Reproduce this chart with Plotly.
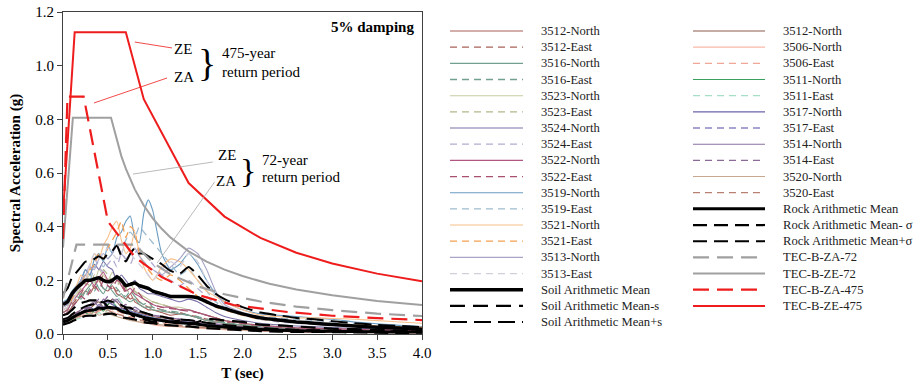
import plotly.graph_objects as go

# ---------------- data ----------------
T = [0.0, 0.05, 0.1, 0.15, 0.2, 0.25, 0.3, 0.35, 0.4, 0.45, 0.5, 0.55, 0.6, 0.65, 0.7, 0.75,
     0.8, 0.85, 0.9, 0.95, 1.0, 1.1, 1.2, 1.3, 1.4, 1.5, 1.6, 1.7, 1.8, 2.0, 2.2, 2.4, 2.6,
     2.8, 3.0, 3.25, 3.5, 3.75, 4.0]

soil_names = ["3512-North", "3512-East", "3516-North", "3516-East", "3523-North", "3523-East",
              "3524-North", "3524-East", "3522-North", "3522-East", "3519-North", "3519-East",
              "3521-North", "3521-East", "3513-North", "3513-East"]
soil_colors = ["#a8605a", "#a8605a", "#74a090", "#74a090", "#c8cca2", "#b4b68a",
               "#7a70a8", "#b3acd0", "#b05680", "#a8506e", "#6a9cc2", "#a0bcd0",
               "#f8c08c", "#f4a050", "#a8a4c8", "#d2cedc"]
soil_vals = [
    [0.07,0.08,0.1,0.12,0.14,0.16,0.15,0.18,0.2,0.17,0.16,0.18,0.15,0.14,0.13,0.15,0.12,0.11,0.1,0.09,0.09,0.08,0.07,0.075,0.07,0.06,0.05,0.045,0.04,0.032,0.026,0.022,0.019,0.017,0.015,0.013,0.012,0.011,0.01],
    [0.08,0.09,0.11,0.13,0.15,0.18,0.2,0.17,0.19,0.22,0.2,0.18,0.16,0.18,0.15,0.13,0.14,0.12,0.11,0.1,0.1,0.09,0.08,0.08,0.07,0.065,0.055,0.05,0.045,0.035,0.028,0.024,0.02,0.018,0.016,0.014,0.013,0.012,0.011],
    [0.08,0.09,0.12,0.14,0.13,0.16,0.18,0.2,0.17,0.15,0.18,0.16,0.14,0.15,0.13,0.12,0.13,0.11,0.1,0.1,0.09,0.085,0.08,0.075,0.07,0.06,0.05,0.045,0.04,0.033,0.027,0.023,0.02,0.018,0.016,0.014,0.013,0.012,0.011],
    [0.07,0.08,0.1,0.12,0.15,0.14,0.17,0.16,0.19,0.17,0.16,0.19,0.17,0.15,0.14,0.16,0.14,0.12,0.11,0.12,0.1,0.09,0.085,0.08,0.07,0.065,0.055,0.048,0.042,0.034,0.028,0.024,0.021,0.019,0.017,0.015,0.013,0.012,0.011],
    [0.09,0.1,0.13,0.15,0.18,0.2,0.22,0.19,0.24,0.22,0.2,0.23,0.2,0.18,0.17,0.19,0.16,0.15,0.14,0.13,0.12,0.11,0.1,0.1,0.09,0.08,0.07,0.06,0.05,0.04,0.032,0.027,0.023,0.021,0.019,0.017,0.015,0.014,0.013],
    [0.08,0.09,0.12,0.14,0.17,0.19,0.18,0.22,0.2,0.24,0.22,0.2,0.18,0.2,0.17,0.15,0.16,0.14,0.13,0.12,0.12,0.11,0.1,0.09,0.09,0.08,0.07,0.06,0.05,0.04,0.032,0.027,0.023,0.021,0.019,0.017,0.015,0.014,0.013],
    [0.1,0.11,0.14,0.17,0.2,0.24,0.22,0.26,0.24,0.27,0.25,0.24,0.2,0.22,0.2,0.18,0.2,0.17,0.16,0.15,0.15,0.14,0.13,0.12,0.13,0.12,0.1,0.08,0.065,0.05,0.04,0.034,0.03,0.027,0.024,0.021,0.019,0.017,0.015],
    [0.09,0.1,0.13,0.16,0.2,0.22,0.26,0.28,0.25,0.23,0.26,0.28,0.25,0.3,0.28,0.26,0.3,0.32,0.3,0.28,0.26,0.22,0.2,0.18,0.2,0.17,0.14,0.11,0.09,0.07,0.055,0.045,0.04,0.036,0.032,0.028,0.025,0.022,0.02],
    [0.08,0.09,0.12,0.14,0.16,0.18,0.2,0.18,0.21,0.23,0.2,0.19,0.22,0.18,0.16,0.17,0.15,0.14,0.13,0.12,0.11,0.1,0.1,0.09,0.09,0.08,0.07,0.06,0.05,0.04,0.032,0.027,0.023,0.021,0.019,0.017,0.015,0.014,0.013],
    [0.07,0.08,0.1,0.12,0.14,0.13,0.16,0.18,0.16,0.2,0.18,0.17,0.2,0.19,0.16,0.15,0.17,0.15,0.13,0.12,0.11,0.1,0.095,0.09,0.085,0.08,0.07,0.06,0.05,0.04,0.032,0.027,0.023,0.021,0.019,0.017,0.015,0.014,0.013],
    [0.12,0.13,0.16,0.18,0.2,0.24,0.22,0.28,0.3,0.27,0.33,0.3,0.36,0.38,0.42,0.44,0.36,0.34,0.45,0.5,0.46,0.3,0.24,0.26,0.3,0.26,0.2,0.15,0.12,0.09,0.075,0.07,0.065,0.06,0.055,0.045,0.038,0.032,0.028],
    [0.1,0.11,0.14,0.17,0.2,0.22,0.2,0.25,0.27,0.25,0.28,0.3,0.33,0.3,0.35,0.38,0.36,0.4,0.38,0.36,0.34,0.3,0.26,0.22,0.24,0.2,0.16,0.12,0.1,0.08,0.065,0.06,0.055,0.05,0.045,0.04,0.035,0.03,0.025],
    [0.1,0.12,0.15,0.18,0.22,0.2,0.25,0.3,0.28,0.33,0.36,0.4,0.42,0.35,0.3,0.32,0.38,0.3,0.25,0.22,0.2,0.25,0.28,0.27,0.24,0.2,0.16,0.14,0.12,0.09,0.07,0.065,0.06,0.06,0.058,0.055,0.05,0.045,0.04],
    [0.09,0.1,0.13,0.16,0.19,0.22,0.24,0.26,0.3,0.28,0.32,0.35,0.38,0.42,0.36,0.4,0.38,0.3,0.26,0.24,0.22,0.2,0.22,0.2,0.17,0.14,0.12,0.1,0.09,0.07,0.055,0.05,0.045,0.04,0.038,0.034,0.03,0.027,0.025],
    [0.1,0.11,0.14,0.16,0.2,0.22,0.25,0.24,0.28,0.3,0.28,0.3,0.33,0.3,0.28,0.3,0.32,0.29,0.27,0.25,0.24,0.22,0.25,0.28,0.32,0.3,0.24,0.16,0.11,0.08,0.06,0.05,0.045,0.04,0.035,0.03,0.027,0.024,0.02],
    [0.09,0.1,0.12,0.15,0.18,0.2,0.26,0.3,0.28,0.3,0.32,0.3,0.28,0.3,0.34,0.3,0.28,0.26,0.24,0.22,0.2,0.24,0.27,0.25,0.3,0.27,0.2,0.14,0.1,0.075,0.06,0.05,0.045,0.04,0.035,0.03,0.027,0.024,0.02],
]

soil_mean = [0.11,0.12,0.15,0.17,0.185,0.2,0.2,0.205,0.21,0.2,0.195,0.2,0.213,0.2,0.18,0.185,0.19,0.18,0.175,0.17,0.16,0.15,0.14,0.14,0.14,0.135,0.12,0.105,0.095,0.075,0.06,0.052,0.045,0.04,0.035,0.03,0.025,0.022,0.018]
soil_mean_minus = [0.07,0.075,0.09,0.105,0.115,0.12,0.125,0.125,0.125,0.12,0.1,0.095,0.1,0.105,0.095,0.075,0.065,0.065,0.055,0.05,0.045,0.045,0.045,0.05,0.035,0.045,0.055,0.055,0.05,0.045,0.035,0.032,0.028,0.024,0.02,0.018,0.015,0.013,0.01]
soil_mean_plus = [0.15,0.17,0.21,0.23,0.25,0.27,0.27,0.28,0.29,0.28,0.3,0.31,0.33,0.29,0.27,0.3,0.32,0.3,0.3,0.29,0.28,0.26,0.235,0.225,0.25,0.22,0.18,0.15,0.13,0.1,0.08,0.07,0.06,0.055,0.048,0.04,0.034,0.03,0.025]

rock_names = ["3512-North", "3506-North", "3506-East", "3511-North", "3511-East", "3517-North",
              "3517-East", "3514-North", "3514-East", "3520-North", "3520-East"]
rock_colors = ["#8c5a50", "#f8b8a8", "#f2a696", "#3aa060", "#a6dec6", "#6a64a8",
               "#8a86c6", "#8a72a0", "#8a6a98", "#c8a890", "#b88070"]
rock_vals = [
    [0.05,0.055,0.07,0.08,0.09,0.1,0.095,0.11,0.12,0.1,0.11,0.13,0.12,0.1,0.09,0.1,0.085,0.08,0.075,0.07,0.065,0.06,0.055,0.05,0.05,0.045,0.04,0.035,0.03,0.025,0.02,0.017,0.015,0.013,0.012,0.011,0.01,0.009,0.008],
    [0.04,0.045,0.055,0.06,0.07,0.075,0.08,0.07,0.085,0.09,0.08,0.085,0.075,0.07,0.06,0.055,0.05,0.045,0.04,0.04,0.035,0.03,0.028,0.026,0.025,0.022,0.02,0.018,0.016,0.013,0.011,0.009,0.008,0.007,0.006,0.006,0.005,0.005,0.004],
    [0.045,0.05,0.06,0.07,0.075,0.085,0.08,0.09,0.1,0.095,0.1,0.09,0.085,0.08,0.07,0.065,0.06,0.055,0.05,0.047,0.045,0.04,0.036,0.033,0.03,0.027,0.024,0.021,0.019,0.015,0.012,0.01,0.009,0.008,0.007,0.006,0.006,0.005,0.005],
    [0.04,0.045,0.055,0.065,0.075,0.08,0.07,0.09,0.1,0.085,0.11,0.12,0.1,0.09,0.085,0.08,0.075,0.07,0.065,0.06,0.055,0.05,0.045,0.04,0.04,0.035,0.032,0.028,0.025,0.02,0.016,0.013,0.011,0.01,0.009,0.008,0.007,0.006,0.006],
    [0.035,0.04,0.05,0.055,0.06,0.07,0.075,0.065,0.08,0.07,0.09,0.1,0.14,0.12,0.1,0.09,0.08,0.075,0.07,0.065,0.06,0.055,0.05,0.045,0.042,0.04,0.036,0.032,0.028,0.022,0.018,0.015,0.013,0.011,0.01,0.009,0.008,0.007,0.006],
    [0.045,0.05,0.06,0.07,0.08,0.09,0.1,0.09,0.11,0.1,0.12,0.11,0.1,0.095,0.09,0.085,0.08,0.075,0.07,0.065,0.06,0.055,0.05,0.047,0.045,0.04,0.036,0.032,0.028,0.022,0.018,0.015,0.013,0.011,0.01,0.009,0.008,0.007,0.006],
    [0.04,0.045,0.055,0.065,0.07,0.08,0.09,0.085,0.095,0.11,0.1,0.09,0.1,0.085,0.08,0.075,0.07,0.065,0.06,0.058,0.055,0.05,0.045,0.042,0.04,0.036,0.032,0.028,0.025,0.02,0.016,0.013,0.011,0.01,0.009,0.008,0.007,0.006,0.006],
    [0.05,0.055,0.065,0.075,0.09,0.1,0.11,0.12,0.1,0.13,0.12,0.11,0.13,0.11,0.1,0.09,0.1,0.09,0.08,0.075,0.07,0.065,0.06,0.055,0.05,0.046,0.042,0.038,0.034,0.027,0.022,0.018,0.015,0.013,0.012,0.011,0.01,0.009,0.008],
    [0.05,0.055,0.07,0.08,0.085,0.095,0.1,0.11,0.13,0.12,0.14,0.13,0.12,0.1,0.11,0.1,0.09,0.085,0.08,0.075,0.07,0.065,0.06,0.055,0.05,0.045,0.04,0.036,0.032,0.026,0.021,0.017,0.015,0.013,0.012,0.011,0.01,0.009,0.008],
    [0.04,0.045,0.05,0.06,0.065,0.07,0.075,0.08,0.07,0.075,0.08,0.07,0.065,0.06,0.055,0.05,0.048,0.045,0.042,0.04,0.038,0.034,0.03,0.028,0.026,0.024,0.022,0.02,0.018,0.015,0.012,0.01,0.009,0.008,0.007,0.006,0.006,0.005,0.005],
    [0.045,0.05,0.06,0.065,0.07,0.08,0.085,0.075,0.09,0.085,0.09,0.08,0.075,0.07,0.065,0.06,0.055,0.05,0.048,0.045,0.042,0.038,0.034,0.031,0.028,0.026,0.024,0.022,0.02,0.016,0.013,0.011,0.01,0.009,0.008,0.007,0.006,0.006,0.005],
]

rock_mean = [0.045,0.05,0.06,0.07,0.078,0.085,0.088,0.09,0.097,0.095,0.1,0.098,0.095,0.085,0.08,0.077,0.072,0.067,0.062,0.058,0.055,0.05,0.045,0.042,0.04,0.036,0.032,0.029,0.026,0.021,0.017,0.014,0.012,0.011,0.01,0.009,0.008,0.007,0.007]
rock_mean_minus = [0.035,0.04,0.047,0.055,0.061,0.067,0.068,0.068,0.074,0.072,0.075,0.076,0.07,0.062,0.06,0.057,0.054,0.049,0.044,0.041,0.04,0.035,0.032,0.03,0.028,0.025,0.022,0.02,0.018,0.014,0.011,0.009,0.008,0.008,0.007,0.006,0.005,0.004,0.005]
rock_mean_plus = [0.055,0.06,0.073,0.085,0.095,0.103,0.108,0.112,0.12,0.118,0.125,0.12,0.12,0.108,0.1,0.097,0.09,0.085,0.08,0.075,0.07,0.065,0.058,0.054,0.052,0.047,0.042,0.038,0.034,0.028,0.023,0.019,0.016,0.014,0.013,0.012,0.011,0.01,0.009]

# design spectra (TEC-2007, local site class B)
za72_T = [0.0, 0.15, 0.8, 1.0, 1.2, 1.5, 1.8, 2.2, 2.6, 3.0, 3.5, 4.0]
za72_S = [0.133, 0.333, 0.333, 0.266, 0.222, 0.178, 0.148, 0.121, 0.102, 0.089, 0.076, 0.067]
ze72_T = [0.0, 0.11, 0.535, 0.6, 0.65, 0.7, 0.8, 0.9, 1.0, 1.1, 1.2, 1.4, 1.6, 1.8, 2.0, 2.3, 2.6, 3.0, 3.5, 4.0]
ze72_S = [0.322, 0.806, 0.806, 0.719, 0.663, 0.616, 0.539, 0.479, 0.431, 0.392, 0.359, 0.308, 0.270, 0.240, 0.216, 0.187, 0.166, 0.144, 0.123, 0.108]
za475_T = [0.0, 0.05, 0.23, 0.5, 0.8, 1.1, 1.5, 1.9, 2.5, 3.0, 3.5, 4.0]
za475_S = [0.354, 0.885, 0.885, 0.42, 0.287, 0.212, 0.146, 0.108, 0.082, 0.068, 0.059, 0.052]
ze475_T = [0.0, 0.13, 0.7, 0.9, 1.4, 1.8, 2.2, 2.6, 3.0, 3.5, 4.0]
ze475_S = [0.45, 1.125, 1.125, 0.875, 0.5625, 0.4375, 0.358, 0.303, 0.2625, 0.225, 0.197]

# ---------------- figure ----------------
FONT = "Liberation Serif"
RED = "#ee1c1c"
GREY = "#a0a0a0"
fig = go.Figure()
legend_items = {1: [], 2: []}

def add(x, y, name, color, width, dash="solid", col=1, shape="spline"):
    fig.add_trace(go.Scatter(x=x, y=y, name=name, mode="lines", showlegend=False,
                             line=dict(color=color, width=width, dash=dash, shape=shape,
                                       smoothing=0.5 if shape == "spline" else None)))
    legend_items[col].append((name, color, width, dash))

for i, (n, c, v) in enumerate(zip(soil_names, soil_colors, soil_vals)):
    add(T, v, n, c, 1.1 if i % 2 == 0 else 1.3, "solid" if i % 2 == 0 else "7px,5px")
for i, (n, c, v) in enumerate(zip(rock_names, rock_colors, rock_vals)):
    dash = "solid" if (i == 0 or i % 2 == 1) else "7px,5px"
    add(T, v, n, c, 1.1 if dash == "solid" else 1.3, dash, col=2)

add(T, soil_mean, "Soil Arithmetic Mean", "black", 3.5)
add(T, soil_mean_minus, "Soil Arithmetic Mean-s", "black", 2.2, "15px,8px")
add(T, soil_mean_plus, "Soil Arithmetic Mean+s", "black", 2.0, "17px,7px")
add(T, rock_mean, "Rock Arithmetic Mean", "black", 3.0, col=2)
add(T, rock_mean_minus, "Rock Arithmetic Mean- σ", "black", 2.2, "14px,7px", col=2)
add(T, rock_mean_plus, "Rock Arithmetic Mean+σ", "black", 2.0, "14px,7px", col=2)
add(za72_T, za72_S, "TEC-B-ZA-72", GREY, 2.2, "16px,8px", 2, "linear")
add(ze72_T, ze72_S, "TEC-B-ZE-72", GREY, 2.0, "solid", 2, "linear")
add(za475_T, za475_S, "TEC-B-ZA-475", RED, 2.2, "16px,8px", 2, "linear")
add(ze475_T, ze475_S, "TEC-B-ZE-475", RED, 2.0, "solid", 2, "linear")

# ---- legend drawn as two columns (screen-pixel layout converted to paper units) ----
PL, PW, PB, PH = 63, 359, 334, 322   # plot area left, width, bottom, height (screen px)
def px2paper_x(px): return (px - PL) / PW
def px2paper_y(py): return (PB - py) / PH

columns = {1: (450, 523, 539), 2: (693, 765, 781)}
for col, (lx0, lx1, tx) in columns.items():
    for i, (name, color, width, dash) in enumerate(legend_items[col]):
        py = 31 + i * 16.17
        fig.add_shape(type="line", xref="paper", yref="paper",
                      x0=px2paper_x(lx0), x1=px2paper_x(lx1),
                      y0=px2paper_y(py), y1=px2paper_y(py),
                      line=dict(color=color, width=width, dash=dash))
        fig.add_annotation(xref="paper", yref="paper", x=px2paper_x(tx), y=px2paper_y(py),
                           text=name, showarrow=False, xanchor="left", yanchor="middle",
                           font=dict(family=FONT, size=12.6, color="#222222"))

# leader lines
leaders = [((0.80, 1.088), (1.215, 1.066), RED),
           ((0.345, 0.861), (1.159, 0.954), RED),
           ((0.78, 0.596), (1.67, 0.641), "#a8a8a8"),
           ((1.05, 0.265), (1.69, 0.567), "#a8a8a8")]
for (x0, y0), (x1, y1), c in leaders:
    fig.add_shape(type="line", x0=x0, y0=y0, x1=x1, y1=y1, xref="x", yref="y",
                  line=dict(color=c, width=0.8))

def txt(x, y, s, size=15, bold=False, xanchor="left"):
    fig.add_annotation(x=x, y=y, xref="x", yref="y", text=("<b>%s</b>" % s) if bold else s,
                       showarrow=False, xanchor=xanchor, yanchor="middle",
                       font=dict(family=FONT, size=size, color="black"))

txt(3.93, 1.144, "5% damping", 15, True, "right")
txt(1.21, 1.062, "ZE")
txt(1.21, 0.958, "ZA")
txt(1.604, 1.010, "}", 38, xanchor="center")
txt(1.745, 1.047, "475-year")
txt(1.745, 0.976, "return period")
txt(1.70, 0.667, "ZE")
txt(1.68, 0.570, "ZA")
txt(2.061, 0.611, "}", 34, xanchor="center")
txt(2.19, 0.648, "72-year")
txt(2.19, 0.585, "return period")

axis_common = dict(showline=True, linecolor="#404040", linewidth=1, mirror=True,
                   ticks="outside", ticklen=5, tickcolor="#404040", showgrid=False,
                   zeroline=False, automargin=False, ticklabeloverflow="allow",
                   tickfont=dict(family=FONT, size=15, color="black"))
fig.update_xaxes(range=[0, 4], dtick=0.5, tickformat=".1f",
                 title=dict(text="<b>T (sec)</b>", font=dict(family=FONT, size=15, color="black"),
                            standoff=7), **axis_common)
fig.update_yaxes(range=[0, 1.2], dtick=0.2, tickformat=".1f",
                 title=dict(text="<b>Spectral Acceleration (g)</b>",
                            font=dict(family=FONT, size=15, color="black"), standoff=11),
                 **axis_common)

fig.update_layout(
    width=921, height=387, margin=dict(l=63, r=499, t=12, b=53),
    paper_bgcolor="white", plot_bgcolor="white", showlegend=False,
)
# remove the page's default 8px body margin so the figure fills the window exactly
fig.write_html("out.html", config={"displayModeBar": False},
               post_script="document.body.style.margin='0px';document.body.style.overflow='hidden';")
